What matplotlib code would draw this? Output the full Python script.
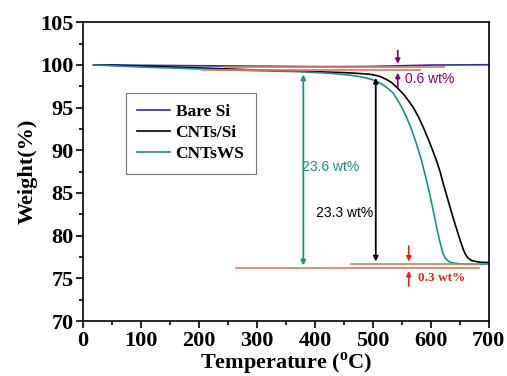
import numpy as np
import matplotlib.pyplot as plt
from matplotlib.ticker import MultipleLocator

# данные кривых ТГА
t_si = [18, 50, 100, 200, 300, 400, 450, 500, 550, 600, 650, 700]
w_si = [100.0, 100.0, 99.95, 99.9, 99.85, 99.8, 99.8, 99.82, 99.9, 99.98, 100.0, 100.02]

t_cnt = [18, 50, 100, 200, 300, 400, 450, 475, 495, 510, 522, 532, 541, 555, 569, 578, 587, 598,
         604, 610, 616, 621, 627, 633, 638, 644, 650, 656, 660, 664, 670, 684, 700]
w_cnt = [100.0, 99.95, 99.85, 99.65, 99.4, 99.2, 99.1, 99.0, 98.9, 98.7, 98.35, 97.95, 97.4, 96.4,
         95.1, 94.0, 92.7, 90.9, 89.85, 88.75, 87.5, 86.2, 84.8, 83.4, 82.2, 80.9, 79.6, 78.4, 77.8,
         77.4, 77.1, 76.9, 76.85]

t_ws = [18, 50, 100, 167, 250, 374, 430, 460, 480, 498, 512, 524, 535, 547, 558, 567, 575, 584,
        591, 598, 604, 610, 616, 621, 625, 629, 633, 640, 650, 675, 700]
w_ws = [100.0, 99.9, 99.75, 99.6, 99.4, 99.2, 99.0, 98.8, 98.6, 98.3, 97.9, 97.35, 96.7, 95.4,
        93.9, 92.4, 90.8, 88.8, 86.9, 84.9, 83.0, 81.0, 79.2, 77.9, 77.4, 77.1, 76.9, 76.8, 76.7,
        76.65, 76.7]

labels = ['Bare Si', 'CNTs/Si', 'CNTsWS']
colors = ['#2a2ab8', 'black', '#1a9088']

orange = '#e8735a'
purple = '#800080'
red = '#e8201c'

plt.rcParams['font.family'] = 'Liberation Serif'
plt.rcParams['font.weight'] = 'bold'

fig = plt.figure(figsize=(5.07, 3.76), dpi=100)
ax = fig.add_axes([0.164, 0.146, 0.8, 0.795])

ax.plot(t_si, w_si, color=colors[0], lw=1.2, label=labels[0])
ax.plot(t_cnt, w_cnt, color=colors[1], lw=1.2, label=labels[1])
ax.plot(t_ws, w_ws, color=colors[2], lw=1.2, label=labels[2])

# базовые линии
ax.plot([245, 622], [99.8, 99.8], color=orange, lw=1.2)
ax.plot([205, 582], [99.4, 99.4], color=orange, lw=1.2)
ax.plot([463, 684], [76.65, 76.65], color=orange, lw=1.2)
ax.plot([264, 684], [76.2, 76.2], color=orange, lw=1.2)

# стрелки потери массы
ax.annotate('', xy=(380, 76.2), xytext=(380, 99.2),
            arrowprops=dict(arrowstyle='<|-|>', color=colors[2], lw=1.3, mutation_scale=7))
ax.text(377, 88.0, '23.6 wt%', color=colors[2], fontsize=10, family='Liberation Sans',
        fontweight='normal', va='center', ha='left')
ax.annotate('', xy=(505, 76.65), xytext=(505, 98.8),
            arrowprops=dict(arrowstyle='<|-|>', color='black', lw=1.3, mutation_scale=7))
ax.text(500, 82.7, '23.3 wt%', color='black', fontsize=10, family='Liberation Sans',
        fontweight='normal', va='center', ha='right')

ax.annotate('', xy=(543, 99.8), xytext=(543, 102.0),
            arrowprops=dict(arrowstyle='-|>', color=purple, lw=1.2, mutation_scale=7))
ax.annotate('', xy=(543, 99.4), xytext=(543, 97.0),
            arrowprops=dict(arrowstyle='-|>', color=purple, lw=1.2, mutation_scale=7))
ax.text(555, 98.4, '0.6 wt%', color=purple, fontsize=10, family='Liberation Sans',
        fontweight='normal', va='center', ha='left')

ax.annotate('', xy=(562, 76.65), xytext=(562, 79.1),
            arrowprops=dict(arrowstyle='-|>', color=red, lw=1.2, mutation_scale=7))
ax.annotate('', xy=(562, 76.2), xytext=(562, 73.8),
            arrowprops=dict(arrowstyle='-|>', color=red, lw=1.2, mutation_scale=7))
ax.text(578, 75.0, '0.3 wt%', color=red, fontsize=9.5, fontweight='bold', va='center', ha='left')

ax.set_xlim(0, 700)
ax.set_ylim(70, 105)
ax.xaxis.set_major_locator(MultipleLocator(100))
ax.xaxis.set_minor_locator(MultipleLocator(50))
ax.yaxis.set_major_locator(MultipleLocator(5))
ax.yaxis.set_minor_locator(MultipleLocator(2.5))
ax.tick_params(which='major', direction='out', length=5, width=1.2, labelsize=16, pad=2)
ax.tick_params(which='minor', direction='out', length=3, width=1.2)
for s in ax.spines.values():
    s.set_linewidth(1.2)

ax.set_xlabel(r'Temperature ($^{\mathregular{o}}$C)', fontsize=16, fontweight='bold', labelpad=0)
ax.set_ylabel('Weight(%)', fontsize=16, fontweight='bold', labelpad=2)

leg = ax.legend(loc='upper left', bbox_to_anchor=(0.106, 0.763), borderaxespad=0, frameon=True,
                fancybox=False, edgecolor='#555555', handlelength=1.9, handletextpad=0.3,
                borderpad=0.65, labelspacing=0.28, prop={'weight': 'bold', 'size': 12.5})
leg.get_frame().set_linewidth(0.8)

fig.savefig('out.png', dpi=100)
